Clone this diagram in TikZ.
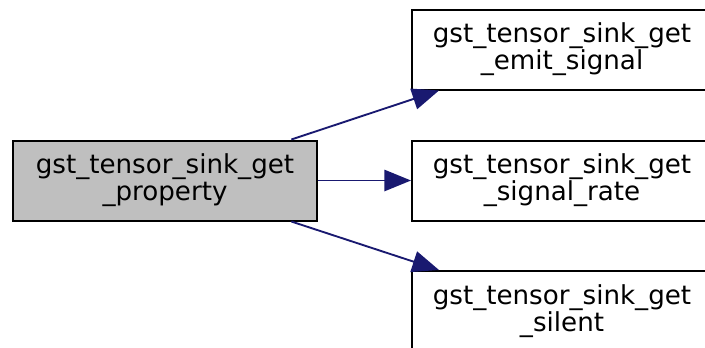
\documentclass[tikz,border=0pt]{standalone}
\usepackage{fontspec}
\setmainfont{DejaVu Sans}
\usetikzlibrary{arrows.meta,positioning}
\definecolor{navy}{HTML}{191970}
\definecolor{graybox}{HTML}{BFBFBF}

\begin{document}
\begin{tikzpicture}[x=0.75pt, y=-0.75pt, >={Triangle[length=20pt,width=16pt]},
  every node/.style={font=\fontsize{19.6}{20.3}\selectfont, align=center},
  fn/.style={draw, line width=1.5pt, minimum width=225pt, minimum height=60pt, inner sep=0pt},
  call/.style={->, draw=navy, fill=navy, line width=1.4pt}]
\path[use as bounding box] (0,0) rectangle (705,347);
\node[fn, fill=graybox, minimum width=228pt] (prop) at (165,180.5) {gst\_tensor\_sink\_get\\\_property};
\node[fn] (emit) at (562,49.5) {gst\_tensor\_sink\_get\\\_emit\_signal};
\node[fn] (rate) at (562,180.5) {gst\_tensor\_sink\_get\\\_signal\_rate};
\node[fn] (silent) at (562,311) {gst\_tensor\_sink\_get\\\_silent};
\draw[call] ([xshift=-20pt]prop.north east) -- ([xshift=21pt]emit.south west);
\draw[call] (prop.east) -- (rate.west);
\draw[call] ([xshift=-20pt]prop.south east) -- ([xshift=21pt]silent.north west);
\end{tikzpicture}
\end{document}
